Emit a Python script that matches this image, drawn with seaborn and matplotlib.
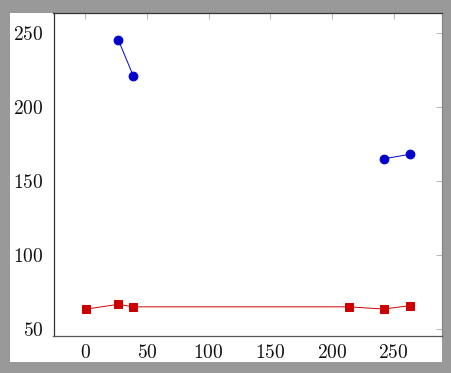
import numpy as np
import pandas as pd
import matplotlib
matplotlib.use("Agg")
import matplotlib.pyplot as plt
import seaborn as sns
from matplotlib.patches import Rectangle

# data
x_vals = [1, 27, 39, 214, 242, 263]
blue_vals = [np.nan, 245, 221, np.nan, 165, 168]
red_vals = [63.5, 66.7, 65, 65, 63.5, 65.8]
x_ticks = [0, 50, 100, 150, 200, 250]
y_ticks = [50, 100, 150, 200, 250]

sns.set_theme(style="white")
plt.rcParams["font.family"] = ["cmr10", "DejaVu Serif"]
plt.rcParams["axes.formatter.use_mathtext"] = True

W, H = 451, 373
fig = plt.figure(figsize=(W / 100, H / 100), dpi=100)
fig.patch.set_facecolor("#999999")
bg = Rectangle((10 / W, 1 - 362 / H), (442 - 10) / W, (362 - 13) / H,
               transform=fig.transFigure, facecolor="white",
               edgecolor="none", zorder=-10)
fig.add_artist(bg)

left, right, top, bottom = 53.5, 442, 13, 336
ax = fig.add_axes([left / W, 1 - bottom / H, (right - left) / W, (bottom - top) / H])
ax.set_zorder(5)
ax.set_facecolor("white")


def segments(xs, ys, name):
    ys = np.asarray(ys, dtype=float)
    seg = np.cumsum(np.isnan(ys))
    df = pd.DataFrame({"x": xs, "y": ys, "seg": seg, "series": name})
    return df.dropna()


df_blue = segments(x_vals, blue_vals, "blue")
df_red = segments(x_vals, red_vals, "red")

sns.lineplot(data=df_red, x="x", y="y", units="seg", estimator=None, ax=ax,
             color="#cc0000", linewidth=0.7, marker="s", markersize=6.2,
             markeredgecolor="#cc0000", markerfacecolor="#cc0000", sort=False)
sns.lineplot(data=df_blue, x="x", y="y", units="seg", estimator=None, ax=ax,
             color="#0000cc", linewidth=0.7, marker="o", markersize=6.3,
             markeredgecolor="#0000cc", markerfacecolor="#0000cc", sort=False)

ax.set_xlim(-25.7, 289.3)
ax.set_ylim(45.3, 263.5)
ax.set_xticks(x_ticks)
ax.set_yticks(y_ticks)
ax.set_xlabel("")
ax.set_ylabel("")
ax.tick_params(direction="in", length=4, width=0.6, color="#aaaaaa",
               top=True, right=True, labelsize=14, labelcolor="#111111", pad=6)
ax.tick_params(axis="y", pad=7)
for s in ax.spines.values():
    s.set_color("#333333")
    s.set_linewidth(0.9)
ax.spines["right"].set_color("#888888")
ax.spines["bottom"].set_color("#555555")

fig.savefig("out.png", dpi=100, facecolor=fig.get_facecolor())
